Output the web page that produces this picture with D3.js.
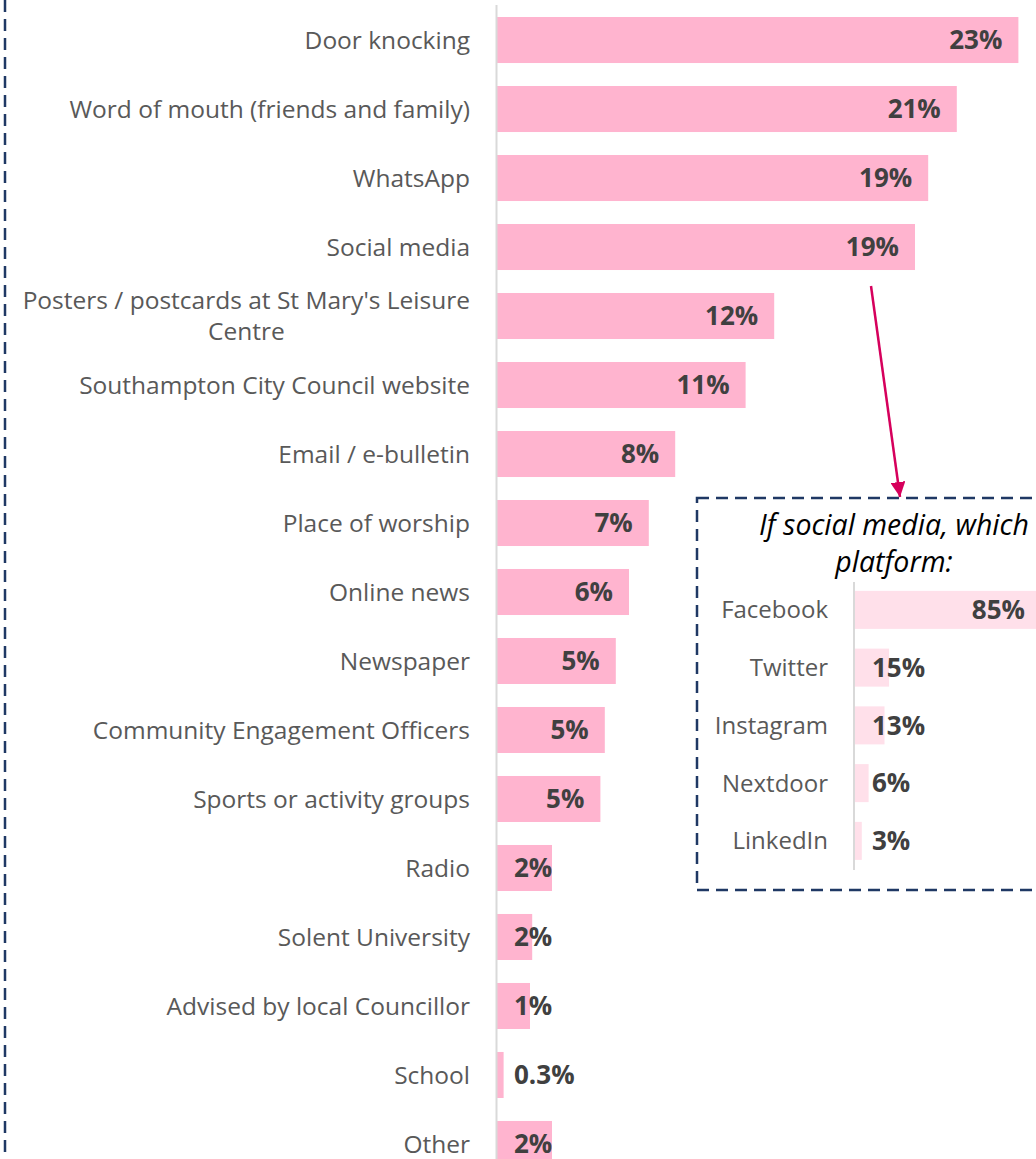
<!DOCTYPE html>
<html>
<head>
<meta charset="utf-8">
<script src="https://cdn.jsdelivr.net/npm/d3@7"></script>
<style>
  body { margin: 0; background: #fff; }
  svg { display: block; font-family: "Open Sans", Lato, sans-serif; }
</style>
</head>
<body>
<div class="chart"></div>
<script>
const width = 1036, height = 1159;

// main chart: how people heard about it
const categories = ["Door knocking", "Word of mouth (friends and family)", "WhatsApp", "Social media",
  "Posters / postcards at St Mary's Leisure Centre", "Southampton City Council website", "Email / e-bulletin",
  "Place of worship", "Online news", "Newspaper", "Community Engagement Officers", "Sports or activity groups",
  "Radio", "Solent University", "Advised by local Councillor", "School", "Other"];
const values = [23.7, 20.9, 19.6, 19.0, 12.6, 11.3, 8.1, 6.9, 6.0, 5.4, 4.9, 4.7, 2.5, 1.6, 1.5, 0.3, 2.5];
const valueLabels = ["23%", "21%", "19%", "19%", "12%", "11%", "8%", "7%", "6%", "5%", "5%", "5%", "2%", "2%", "1%", "0.3%", "2%"];

// inset: which social media platform
const platforms = ["Facebook", "Twitter", "Instagram", "Nextdoor", "LinkedIn"];
const platformValues = [85, 15, 13, 6, 3];
const platformLabels = ["85%", "15%", "13%", "6%", "3%"];

const svg = d3.select('.chart').append('svg')
    .attr('width', width)
    .attr('height', height);

// left dashed frame line
svg.append('line')
    .attr('x1', 5).attr('x2', 5)
    .attr('y1', 0).attr('y2', height)
    .attr('stroke', '#1F3864')
    .attr('stroke-width', 2.5)
    .attr('stroke-dasharray', '12 7');

const x0 = 497;
const xScale = d3.scaleLinear().domain([0, 24]).range([x0, x0 + 24 * 22]);
const yScale = d3.scaleBand()
    .domain(categories)
    .range([5.5, 5.5 + 69 * categories.length])
    .paddingInner(0.333)
    .paddingOuter(0.1667);

svg.selectAll('.bar')
    .data(categories)
    .enter()
    .append('rect')
    .attr('class', 'bar')
    .attr('x', x0)
    .attr('y', d => yScale(d))
    .attr('width', (d, i) => xScale(values[i]) - x0)
    .attr('height', yScale.bandwidth())
    .style('fill', '#FFB4CF');

svg.append('line')
    .attr('x1', x0 - 0.5).attr('x2', x0 - 0.5)
    .attr('y1', 5).attr('y2', height)
    .attr('stroke', '#D9D9D9')
    .attr('stroke-width', 2);

svg.selectAll('.cat')
    .data(categories)
    .enter()
    .append('text')
    .attr('class', 'cat')
    .attr('x', 470)
    .attr('y', d => yScale(d) + yScale.bandwidth() / 2)
    .attr('dy', '0.35em')
    .attr('text-anchor', 'end')
    .style('font-size', '24.5px')
    .style('fill', '#595959')
    .each(function(d) {
      const t = d3.select(this);
      if (d.startsWith('Posters')) {
        // two lines, second one centred under the first like excel does
        const cy = yScale(d) + yScale.bandwidth() / 2;
        t.attr('dy', null).attr('y', null);
        const first = t.append('tspan').attr('x', 470).attr('y', cy - 15.5).attr('dy', '0.35em')
          .text("Posters / postcards at St Mary's Leisure");
        const w = first.node().getComputedTextLength();
        t.append('tspan').attr('x', 470 - w / 2).attr('y', cy + 15.5).attr('dy', '0.35em')
          .attr('text-anchor', 'middle').text('Centre');
      } else {
        t.text(d);
      }
    });

svg.selectAll('.val')
    .data(categories)
    .enter()
    .append('text')
    .attr('class', 'val')
    .attr('y', d => yScale(d) + yScale.bandwidth() / 2)
    .attr('dy', '0.36em')
    .attr('text-anchor', 'end')
    .style('font-size', '26px')
    .style('font-weight', 'bold')
    .style('fill', '#404040')
    .text((d, i) => valueLabels[i])
    .attr('x', function(d, i) {
      const w = this.getComputedTextLength();
      return Math.max(xScale(values[i]) - 16, x0 + 17 + w);
    });

// inset box
svg.append('rect')
    .attr('x', 697).attr('y', 498)
    .attr('width', 380).attr('height', 392)
    .attr('fill', '#fff')
    .attr('stroke', '#1F3864')
    .attr('stroke-width', 2.5)
    .attr('stroke-dasharray', '12 7');

const title = svg.append('text')
    .attr('text-anchor', 'middle')
    .style('font-size', '28.5px')
    .style('font-style', 'italic')
    .style('fill', '#000');
title.append('tspan').attr('x', 894).attr('y', 535).text('If social media, which');
title.append('tspan').attr('x', 894).attr('y', 572).text('platform:');

const ix0 = 855;
const ixScale = d3.scaleLinear().domain([0, 100]).range([ix0, ix0 + 227]);
const iyScale = d3.scaleBand()
    .domain(platforms)
    .range([581, 581 + 57.75 * platforms.length])
    .paddingInner(0.342)
    .paddingOuter(0.171);

svg.selectAll('.ibar')
    .data(platforms)
    .enter()
    .append('rect')
    .attr('class', 'ibar')
    .attr('x', ix0)
    .attr('y', d => iyScale(d))
    .attr('width', (d, i) => ixScale(platformValues[i]) - ix0)
    .attr('height', iyScale.bandwidth())
    .style('fill', '#FFE0EA');

svg.append('line')
    .attr('x1', ix0 - 1).attr('x2', ix0 - 1)
    .attr('y1', 582).attr('y2', 870)
    .attr('stroke', '#D9D9D9')
    .attr('stroke-width', 2);

svg.selectAll('.plat')
    .data(platforms)
    .enter()
    .append('text')
    .attr('class', 'plat')
    .attr('x', 828)
    .attr('y', d => iyScale(d) + iyScale.bandwidth() / 2)
    .attr('dy', '0.35em')
    .attr('text-anchor', 'end')
    .style('font-size', '24px')
    .style('fill', '#595959')
    .text(d => d);

svg.selectAll('.ival')
    .data(platforms)
    .enter()
    .append('text')
    .attr('class', 'ival')
    .attr('y', d => iyScale(d) + iyScale.bandwidth() / 2)
    .attr('dy', '0.36em')
    .attr('text-anchor', 'end')
    .style('font-size', '26px')
    .style('font-weight', 'bold')
    .style('fill', '#404040')
    .text((d, i) => platformLabels[i])
    .attr('x', function(d, i) {
      const w = this.getComputedTextLength();
      return Math.max(ixScale(platformValues[i]) - 23, ix0 + 17 + w);
    });

// arrow from social media bar to the inset
svg.append('defs').append('marker')
    .attr('id', 'arrow')
    .attr('viewBox', '0 0 10 10')
    .attr('refX', 10).attr('refY', 5)
    .attr('markerWidth', 6).attr('markerHeight', 6)
    .attr('markerUnits', 'strokeWidth')
    .attr('orient', 'auto')
    .append('path')
    .attr('d', 'M0,0 L10,5 L0,10 z')
    .attr('fill', '#D6005C');

svg.append('line')
    .attr('x1', 871).attr('y1', 286)
    .attr('x2', 900).attr('y2', 497)
    .attr('stroke', '#D6005C')
    .attr('stroke-width', 2.5)
    .attr('marker-end', 'url(#arrow)');
</script>
</body>
</html>
